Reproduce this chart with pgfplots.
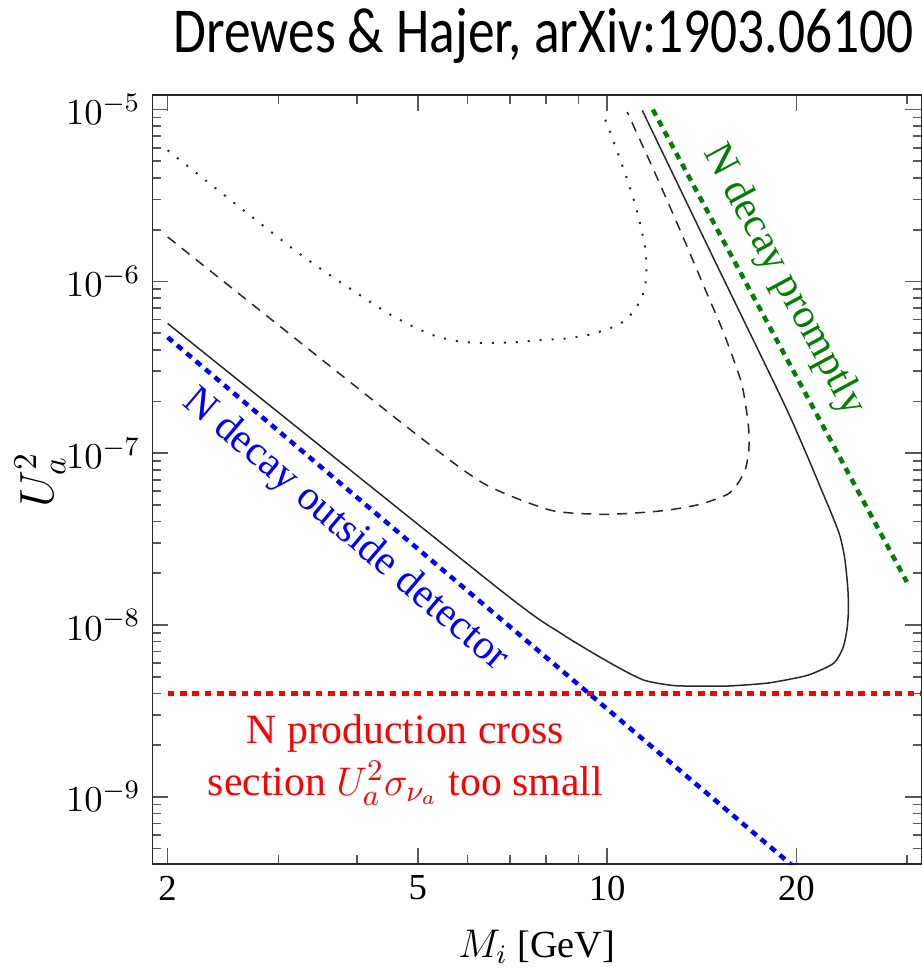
\documentclass[border=0pt]{standalone}
\usepackage{fontspec}
\setmainfont{Liberation Serif}
\newfontfamily\titlefont{Carlito}
\usepackage{graphicx}
\usepackage{pgfplots}
\pgfplotsset{compat=1.18}
\definecolor{dgreen}{RGB}{0,128,0}
\definecolor{curvegray}{RGB}{40,40,40}

\begin{document}
\begin{tikzpicture}
\useasboundingbox (-45.7pt,-31.2pt) rectangle (230.9pt,259.2pt);
\begin{axis}[
  at={(0,0)}, anchor=south west,
  scale only axis, width=230.7pt, height=230.7pt,
  xmode=log, ymode=log,
  xmin=1.891, xmax=31.6, ymin=4.06e-10, ymax=1.216e-5,
  xtick={2,5,10,20}, xticklabels={2,5,10,20},
  minor xtick={3,4,6,7,8,9,30},
  ytick={1e-9,1e-8,1e-7,1e-6,1e-5},
  yticklabels={$10^{-9}$,$10^{-8}$,$10^{-7}$,$10^{-6}$,$10^{-5}$},
  minor ytick={5e-10,6e-10,7e-10,8e-10,9e-10,
    2e-9,3e-9,4e-9,5e-9,6e-9,7e-9,8e-9,9e-9,
    2e-8,3e-8,4e-8,5e-8,6e-8,7e-8,8e-8,9e-8,
    2e-7,3e-7,4e-7,5e-7,6e-7,7e-7,8e-7,9e-7,
    2e-6,3e-6,4e-6,5e-6,6e-6,7e-6,8e-6,9e-6},
  tick align=inside,
  major tick length=4.8pt, minor tick length=2.6pt,
  axis line style={black!85, line width=0.45pt},
  tick style={black!65, line width=0.5pt},
  ticklabel style={font=\fontsize{11}{13}\selectfont},
  xlabel={$M_i$ [GeV]},
  xlabel style={at={(axis description cs:0.5,0)}, anchor=base, yshift=-28pt,
    font=\fontsize{11.5}{13}\selectfont},
  ylabel={$U_a^2$},
  ylabel style={at={(axis description cs:-0.146,0.5)}, anchor=center,
    font=\fontsize{14}{16}\selectfont},
]
% red: production cross section limit
\addplot[red, line width=1.35pt, dash pattern=on 2pt off 1.7pt] coordinates {(2,4.0e-9) (31.6,4.0e-9)};
% blue: decay outside detector
\addplot[blue, line width=1.35pt, dash pattern=on 2pt off 1.7pt] coordinates {(2,4.73e-7) (20,3.80e-10)};
% green: decay promptly
\addplot[dgreen, line width=1.35pt, dash pattern=on 2pt off 1.7pt] coordinates {(11.82,1.0e-5) (29.97,1.78e-8)};

% solid contour
\addplot[curvegray, line width=0.45pt, smooth, tension=0.4] coordinates {
(2.000,5.69e-7) (6.765,1.595e-8) (8.43,8.97e-9) (10.12,6.0e-9) (11.43,4.78e-9)
(12.76,4.44e-9) (14.08,4.41e-9) (15.55,4.41e-9) (18.0,4.59e-9) (20.32,4.98e-9)
(21.31,5.25e-9) (22.94,6.0e-9) (23.71,7.33e-9) (24.06,9.33e-9) (24.2,1.22e-8)
(24.14,1.64e-8) (23.87,2.45e-8) (23.44,3.33e-8) (22.76,4.41e-8) (21.87,6.25e-8)
(20.85,9.48e-8) (19.59,1.60e-7) (18.41,2.59e-7) (14.77,1.36e-6) (11.37,9.91e-6)};

% dashed contour
\addplot[curvegray, line width=0.45pt, dash pattern=on 3pt off 2.4pt, smooth, tension=0.4] coordinates {
(2.0,1.815e-6) (4.804,1.42e-7) (6.355,6.68e-8) (8.125,4.66e-8) (9.76,4.41e-8)
(11.01,4.48e-8) (12.48,4.66e-8) (14.08,5.05e-8) (15.55,5.77e-8) (16.19,6.78e-8)
(16.61,8.18e-8) (16.80,1.04e-7) (16.80,1.36e-7) (16.61,1.90e-7) (16.31,2.66e-7)
(15.34,4.97e-7) (14.34,8.88e-7) (13.00,2.07e-6) (11.80,4.63e-6) (10.76,9.68e-6)};

% dotted contour
\addplot[curvegray, line width=0.6pt, dash pattern=on 0.6pt off 3pt, smooth, tension=0.4] coordinates {
(2.0,5.80e-6) (3.228,1.465e-6) (4.384,6.86e-7) (4.953,5.38e-7) (5.388,4.75e-7)
(5.904,4.44e-7) (6.471,4.38e-7) (7.094,4.42e-7) (7.832,4.55e-7) (8.583,4.65e-7)
(9.407,4.91e-7) (10.23,5.43e-7) (10.69,5.94e-7) (11.01,6.70e-7) (11.30,7.76e-7)
(11.47,9.08e-7) (11.54,1.085e-6) (11.51,1.52e-6) (11.30,2.12e-6) (11.05,2.90e-6)
(10.73,4.05e-6) (10.39,5.62e-6) (10.07,7.68e-6) (9.90,8.98e-6)};

\node[rotate=-61.7, text=dgreen, font=\fontsize{12.5}{14}\selectfont] at (axis cs:19.09,1.016e-6) {N decay promptly};
\node[rotate=-40.3, text=blue, font=\fontsize{12.5}{14}\selectfont] at (axis cs:3.83,3.56e-8) {N decay outside detector};
\node[text=red, align=center, font=\fontsize{12.5}{15.6}\selectfont] at (axis cs:4.775,1.637e-9)
  {N production cross\\section $U_a^2\sigma_{\nu_a}$ too small};
\end{axis}
\node[anchor=base east, inner sep=0pt] at (228.6pt,243.6pt)
  {\resizebox{222pt}{!}{\scalebox{1}[1.2]{\titlefont Drewes \& Hajer, arXiv:1903.06100}}};
\end{tikzpicture}
\end{document}
